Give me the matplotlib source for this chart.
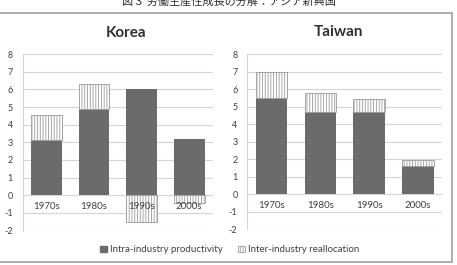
import numpy as np
import matplotlib
matplotlib.use("Agg")
import matplotlib.pyplot as plt
from matplotlib.patches import Patch, Rectangle

plt.rcParams['font.family'] = ['Lato', 'Noto Sans CJK JP', 'DejaVu Sans']
plt.rcParams['hatch.color'] = '#8a8a8a'
plt.rcParams['hatch.linewidth'] = 0.6

# data
decades = ['1970s', '1980s', '1990s', '2000s']
korea_intra = [3.15, 4.9, 6.0, 3.2]
korea_inter = [1.4, 1.4, -1.5, -0.45]
taiwan_intra = [5.5, 4.7, 4.7, 1.6]
taiwan_inter = [1.5, 1.1, 0.75, 0.35]
y_ticks = [-2, -1, 0, 1, 2, 3, 4, 5, 6, 7, 8]

fig_title = '図３ 労働生産性成長の分解：アジア新興国'
legend_labels = ['Intra-industry productivity', 'Inter-industry reallocation']

INTRA_COLOR = '#6b6b6b'
GRID_COLOR = '#d4d4d4'
TEXT_COLOR = '#404040'
HATCH = '||||||'

fig = plt.figure(figsize=(4.57, 2.65), dpi=100)

# outer frame
fig.patches.append(Rectangle((-0.01, 0.011), 1.0, 0.94, transform=fig.transFigure,
                             fill=False, edgecolor='#a0a0a0', linewidth=1.2))

fig.text(0.5, 0.993, fig_title, ha='center', va='center', fontsize=8,
         color='#303030', family=['Noto Sans CJK JP', 'DejaVu Sans'])


def draw_panel(ax, intra, inter):
    intra = np.array(intra)
    inter = np.array(inter)
    x = np.arange(len(decades))
    ax.bar(x, intra, width=0.65, color=INTRA_COLOR, zorder=3)
    bottom = np.where(inter >= 0, intra, 0)
    ax.bar(x, inter, width=0.65, bottom=bottom, color='white', hatch=HATCH,
           edgecolor='#9a9a9a', linewidth=0.6, zorder=3)
    ax.set_xlim(-0.5, len(decades) - 0.5)
    ax.set_ylim(-2, 8)
    ax.set_yticks(y_ticks)
    ax.set_yticklabels([str(t) for t in y_ticks], fontsize=6.5, color=TEXT_COLOR)
    ax.tick_params(axis='y', length=0, pad=7)
    ax.set_xticks([])
    ax.grid(axis='y', color=GRID_COLOR, linewidth=0.8, zorder=0)
    for side in ['top', 'right', 'bottom']:
        ax.spines[side].set_visible(False)
    ax.spines['left'].set_color(GRID_COLOR)
    ax.spines['left'].set_linewidth(0.8)
    for xi, lab in zip(x, decades):
        ax.text(xi, -0.66, lab, ha='center', va='center', fontsize=7,
                color=TEXT_COLOR, zorder=5)


ax1 = fig.add_axes([0.0497, 0.130, 0.416, 0.666])
draw_panel(ax1, korea_intra, korea_inter)

ax2 = fig.add_axes([0.541, 0.134, 0.427, 0.662])
draw_panel(ax2, taiwan_intra, taiwan_inter)

fig.text(126 / 457, 1 - 33 / 265, 'Korea', ha='center', va='center',
         fontsize=11, fontweight='bold', color='#303030')
fig.text(339 / 457, 1 - 32 / 265, 'Taiwan', ha='center', va='center',
         fontsize=11, fontweight='bold', color='#303030')

handles = [Patch(facecolor=INTRA_COLOR, edgecolor=INTRA_COLOR),
           Patch(facecolor='white', hatch=HATCH, edgecolor='#9a9a9a', linewidth=0.6)]
leg = fig.legend(handles, legend_labels, loc='center', bbox_to_anchor=(0.502, 0.057),
                 ncol=2, frameon=False, fontsize=7, handlelength=0.7,
                 handleheight=0.7, handletextpad=0.3, columnspacing=1.6)
for t in leg.get_texts():
    t.set_color(TEXT_COLOR)

fig.savefig('out.png', dpi=100)
